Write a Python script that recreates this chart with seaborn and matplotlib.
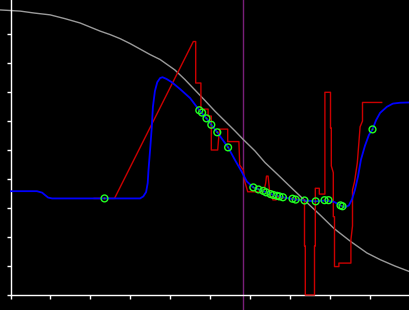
import matplotlib
matplotlib.use("Agg")
import matplotlib.pyplot as plt
import seaborn as sns

# ---- data ----
gray_x = [-0.26, 0.24, 0.61, 0.99, 1.36, 1.74, 1.99, 2.24, 2.49, 2.74, 2.99,
          3.24, 3.49, 3.74, 4.11, 4.36, 4.61, 4.86, 5.11, 5.36, 5.61, 5.82,
          6.11, 6.36, 6.69, 6.99, 7.34, 7.74, 8.09, 8.49, 8.91, 9.24, 9.61, 9.99]
gray_y = [9.83, 9.79, 9.72, 9.66, 9.53, 9.38, 9.24, 9.10, 8.98, 8.84, 8.67,
          8.48, 8.29, 8.12, 7.76, 7.43, 7.07, 6.71, 6.34, 6.00, 5.66, 5.36,
          4.97, 4.57, 4.14, 3.74, 3.28, 2.76, 2.29, 1.86, 1.45, 1.22, 1.00, 0.80]

blue_x = [0.01, 0.66, 0.79, 0.86, 0.94, 1.04, 3.24, 3.32, 3.39, 3.43, 3.45,
          3.49, 3.53, 3.56, 3.61, 3.67, 3.74, 3.80, 3.90, 4.04, 4.24, 4.49,
          4.72, 4.90, 5.02, 5.17, 5.30, 5.44, 5.61, 5.78, 5.91, 6.07, 6.31,
          6.57, 6.81, 7.13, 7.35, 7.63, 7.89, 8.09, 8.25, 8.36, 8.46, 8.54,
          8.61, 8.69, 8.76, 8.86, 8.96, 9.05, 9.14, 9.24, 9.41, 9.56, 9.74, 9.99]
blue_y = [3.58, 3.58, 3.53, 3.45, 3.36, 3.33, 3.33, 3.40, 3.55, 3.86, 4.31,
          5.00, 5.76, 6.48, 7.03, 7.34, 7.48, 7.51, 7.45, 7.33, 7.10, 6.79,
          6.37, 6.09, 5.87, 5.61, 5.36, 5.09, 4.66, 4.25, 3.91, 3.71, 3.59,
          3.45, 3.37, 3.29, 3.26, 3.23, 3.26, 3.21, 3.09, 3.02, 3.09, 3.31,
          3.62, 4.10, 4.66, 5.14, 5.52, 5.71, 6.03, 6.28, 6.49, 6.60, 6.63, 6.64]

red_x = [2.09, 2.60, 4.57, 4.63, 4.63, 4.76, 4.76, 4.94, 4.94, 5.02, 5.02,
         5.18, 5.20, 5.23, 5.43, 5.43, 5.71, 5.73, 5.82, 5.86, 5.93, 6.06,
         6.29, 6.34, 6.38, 6.40, 6.44, 6.46, 6.49, 6.54, 6.56, 6.64, 6.66,
         7.24, 7.35, 7.35, 7.37, 7.37, 7.60, 7.60, 7.62, 7.62, 7.72, 7.72,
         7.86, 7.86, 8.00, 8.00, 8.02, 8.02, 8.07, 8.07, 8.10, 8.10, 8.13,
         8.21, 8.21, 8.51, 8.51, 8.55, 8.55, 8.60, 8.67, 8.74, 8.80, 8.80, 9.28]
red_y = [3.33, 3.33, 8.74, 8.74, 7.31, 7.31, 6.41, 6.41, 6.17, 6.17, 5.00,
         5.00, 5.34, 5.72, 5.72, 5.29, 5.29, 4.48, 4.31, 3.90, 3.56, 3.56,
         3.55, 3.62, 3.86, 4.10, 4.10, 3.83, 3.39, 3.38, 3.28, 3.28, 3.38,
         3.29, 3.28, 1.69, 1.69, 0.00, 0.00, 1.69, 1.69, 3.68, 3.68, 3.48,
         3.48, 6.99, 6.99, 5.76, 5.76, 4.45, 4.22, 2.70, 2.70, 0.98, 0.98,
         0.98, 1.10, 1.10, 1.90, 2.38, 3.62, 3.90, 4.55, 5.80, 6.00, 6.64, 6.64]

pts_x = [2.35, 4.72, 4.79, 4.90, 5.02, 5.17, 5.44, 6.07, 6.20, 6.32, 6.39,
         6.50, 6.57, 6.66, 6.72, 6.81, 7.05, 7.13, 7.35, 7.63, 7.85, 7.95,
         8.25, 8.30, 9.05]
pts_y = [3.33, 6.37, 6.29, 6.09, 5.87, 5.61, 5.09, 3.71, 3.64, 3.59, 3.54,
         3.48, 3.45, 3.42, 3.40, 3.37, 3.32, 3.29, 3.26, 3.23, 3.27, 3.27,
         3.09, 3.06, 5.71]

vline_x = 5.82
x_ticks = list(range(0, 10))
y_ticks = list(range(0, 10))

# ---- figure ----
fig = plt.figure(figsize=(4.1, 3.1), dpi=100, facecolor="black")
ax = fig.add_axes([0, 0, 1, 1])
ax.set_facecolor("black")

ax.axvline(vline_x, color="#7a1f7a", lw=1.0, zorder=1)

sns.lineplot(x=gray_x, y=gray_y, sort=False, estimator=None, ax=ax,
             color="#9a9a9a", lw=1.0, zorder=2)
sns.lineplot(x=red_x, y=red_y, sort=False, estimator=None, ax=ax,
             color="#cc0000", lw=1.0, zorder=3)
sns.lineplot(x=blue_x, y=blue_y, sort=False, estimator=None, ax=ax,
             color="#0000ff", lw=1.3, zorder=4)
sns.scatterplot(x=pts_x, y=pts_y, ax=ax, marker="o", s=24,
                facecolor="none", edgecolor="#22ff22", linewidth=1.0, zorder=5)
sns.scatterplot(x=pts_x, y=pts_y, ax=ax, marker="o", s=1.5,
                color="#22aa22", edgecolor="none", zorder=6)

ax.set_xlim(-0.2625, 9.9875)
ax.set_ylim(-15 / 29, 295 / 29)

for s in ["top", "right"]:
    ax.spines[s].set_visible(False)
ax.spines["left"].set_position(("data", 0))
ax.spines["bottom"].set_position(("data", 0))
ax.spines["left"].set_bounds(0, 295 / 29)
ax.spines["bottom"].set_bounds(0, 9.9875)
for s in ["left", "bottom"]:
    ax.spines[s].set_color("white")
    ax.spines[s].set_linewidth(1.0)

ax.set_xticks(x_ticks)
ax.set_yticks(y_ticks)
ax.set_xticklabels([])
ax.set_yticklabels([])
ax.tick_params(axis="both", colors="white", direction="out", length=2.6, width=1.0)
ax.set_xlabel("")
ax.set_ylabel("")

fig.savefig("out.png", dpi=100, facecolor="black")
